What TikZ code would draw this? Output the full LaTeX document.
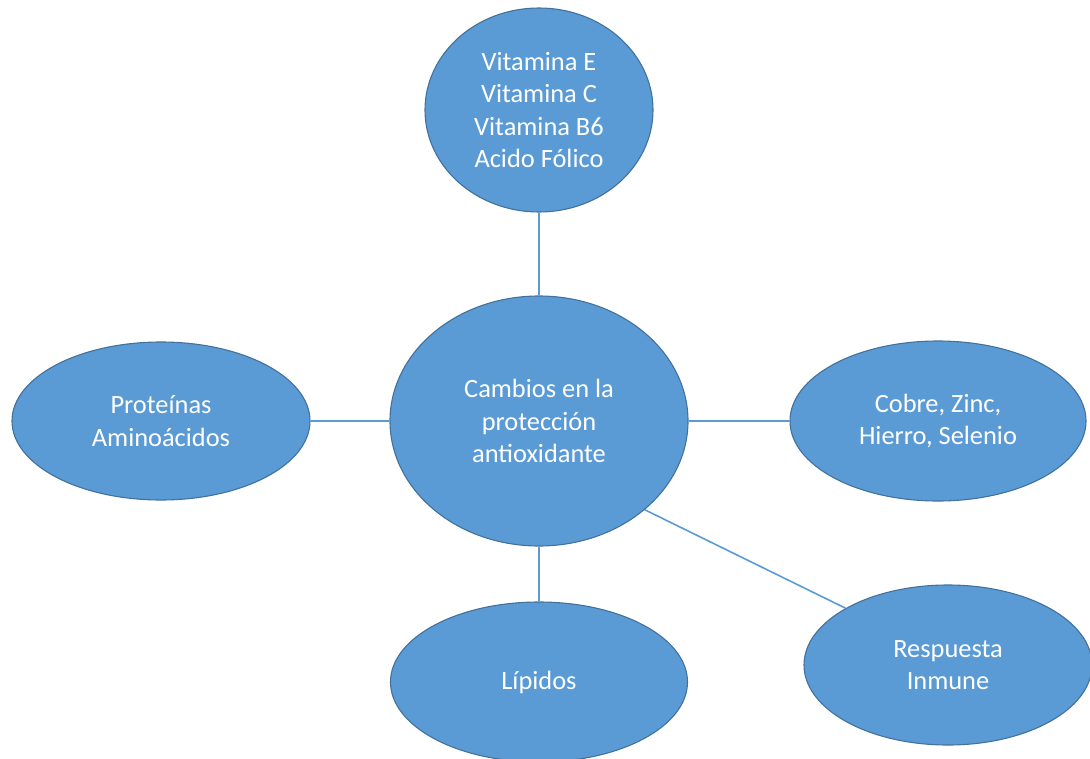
\documentclass[tikz,border=0pt]{standalone}
\usepackage{fontspec}
\setmainfont{Carlito}
\usetikzlibrary{shapes.geometric}
\definecolor{fillblue}{HTML}{5B9BD5}
\definecolor{edgeblue}{HTML}{41719C}
\tikzset{
  bubble/.style={ellipse, draw=edgeblue, line width=1.1pt, fill=fillblue, inner sep=0pt,
    text=white, align=center, font=\fontsize{26.4}{32.5}\selectfont},
  link/.style={draw=fillblue, line width=1.6pt}
}
\begin{document}
\begin{tikzpicture}[x=1pt,y=-1pt]
\useasboundingbox (0,0) rectangle (1090,758);
\node[bubble, minimum width=228pt, minimum height=204pt] (top) at (539,110)
  {Vitamina E\\Vitamina C\\Vitamina B6\\Acido Fólico};
\node[bubble, minimum width=298pt, minimum height=250pt] (c) at (539,421)
  {Cambios en la\\protección\\antioxidante};
\node[bubble, minimum width=298pt, minimum height=158pt] (l) at (161,421)
  {Proteínas\\Aminoácidos};
\node[bubble, minimum width=296pt, minimum height=160pt] (r) at (938,421)
  {Cobre, Zinc,\\Hierro, Selenio};
\node[bubble, minimum width=297pt, minimum height=160pt] (b) at (539,682)
  {Lípidos};
\node[bubble, minimum width=288pt, minimum height=160pt] (br) at (948,665)
  {Respuesta\\Inmune};
\draw[link] (top.south) -- (c.north);
\draw[link] (l.east) -- (c.west);
\draw[link] (c.east) -- (r.west);
\draw[link] (c.south) -- (b.north);
\draw[link] (c.-40) -- (br.151);
\end{tikzpicture}
\end{document}
